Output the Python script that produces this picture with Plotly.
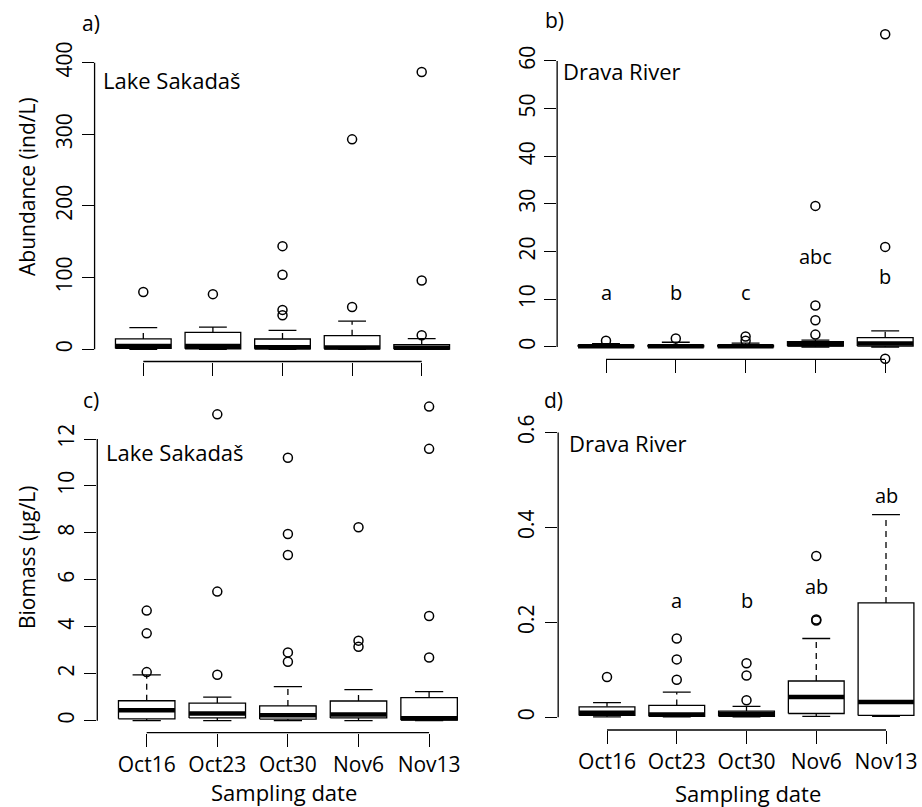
import plotly.graph_objects as go

W, H = 922, 807
FONT = "Open Sans"

dates = ["Oct16", "Oct23", "Oct30", "Nov6", "Nov13"]

# ---- Panel a: Lake Sakadaš, abundance (ind/L)
a_low = [0, 0, 0, 0, 0]
a_q1 = [1.2, 0.8, 0.6, 0.6, 0.4]
a_med = [4.6, 4.5, 3.0, 2.5, 2.3]
a_q3 = [14.5, 23.5, 14.4, 19.0, 6.5]
a_high = [30.2, 31.0, 26.3, 39.3, 14.8]
a_out = [[80], [77], [144, 104, 55, 47.5], [293, 59], [387, 96, 19.5]]

# ---- Panel b: Drava River, abundance (ind/L)
b_low = [0, 0, 0, 0, 0]
b_q1 = [0.05, 0.05, 0.05, 0.2, 0.2]
b_med = [0.15, 0.15, 0.15, 0.6, 0.75]
b_q3 = [0.35, 0.35, 0.35, 1.1, 1.95]
b_high = [0.7, 1.0, 0.8, 1.45, 3.4]
b_out = [[1.3], [1.8], [2.2, 1.3], [29.6, 8.7, 5.6, 2.6], [65.6, 21.0, -2.45]]
b_letters = ["a", "b", "c", "abc", "b"]

# ---- Panel c: Lake Sakadaš, biomass (µg/L)
c_low = [0, 0, 0, 0, 0]
c_q1 = [0.08, 0.12, 0.07, 0.12, 0.03]
c_med = [0.44, 0.31, 0.23, 0.26, 0.10]
c_q3 = [0.85, 0.75, 0.63, 0.84, 0.98]
c_high = [1.95, 1.0, 1.45, 1.32, 1.24]
c_out = [[4.69, 3.72, 2.07], [13.05, 5.5, 1.96], [11.2, 7.95, 7.06, 2.91, 2.51],
         [8.24, 3.41, 3.15], [13.38, 11.58, 4.46, 2.69]]

# ---- Panel d: Drava River, biomass (µg/L)
d_low = [0.001, 0.001, 0.001, 0.002, 0.002]
d_q1 = [0.004, 0.002, 0.002, 0.008, 0.004]
d_med = [0.0095, 0.006, 0.007, 0.043, 0.032]
d_q3 = [0.022, 0.025, 0.013, 0.0765, 0.241]
d_high = [0.031, 0.053, 0.023, 0.166, 0.427]
d_out = [[0.085], [0.166, 0.122, 0.079], [0.114, 0.088, 0.036], [0.34, 0.206, 0.204], []]
d_letters = ["", "a", "b", "ab", "ab"]

# ---- pixel geometry of the four panels
panels = [
    dict(stats=(a_low, a_q1, a_med, a_q3, a_high, a_out), xpos1=143.3, xstep=69.6,
         zero_px=349.3, top_px=62.7, axis_px=361.5,
         yt=[0, 100, 200, 300, 400], ytt=["0", "100", "200", "300", "400"],
         xlab=False, stand=1, letters=None, letter_y=None),
    dict(stats=(b_low, b_q1, b_med, b_q3, b_high, b_out), xpos1=606.0, xstep=69.8,
         zero_px=347.0, top_px=61.0, axis_px=359.3,
         yt=[0, 10, 20, 30, 40, 50, 60], ytt=["0", "10", "20", "30", "40", "50", "60"],
         xlab=False, stand=1, letters=b_letters, letter_y=[11.5, 11.5, 11.5, 18.9, 14.7]),
    dict(stats=(c_low, c_q1, c_med, c_q3, c_high, c_out), xpos1=146.7, xstep=70.6,
         zero_px=720.7, top_px=439.0, axis_px=732.7,
         yt=[0, 2, 4, 6, 8, 10, 12], ytt=["0", "2", "4", "6", "8", "10", "12"],
         xlab=True, stand=2, letters=None, letter_y=None),
    dict(stats=(d_low, d_q1, d_med, d_q3, d_high, d_out), xpos1=607.0, xstep=69.75,
         zero_px=717.3, top_px=432.5, axis_px=730.0,
         yt=[0, 0.2, 0.4, 0.6], ytt=["0", "0.2", "0.4", "0.6"],
         xlab=True, stand=3, letters=d_letters, letter_y=[0, 0.246, 0.246, 0.276, 0.467]),
]

XR = (0.3, 5.5)

fig = go.Figure()
layout = dict(width=W, height=H, margin=dict(l=0, r=0, t=0, b=0, pad=0), showlegend=False,
              plot_bgcolor="white", paper_bgcolor="white",
              font=dict(family=FONT, color="black"))
shapes = []
annotations = []
LW = 1.3
HALF = 0.4     # half box width (R boxwex 0.8)
STAP = 0.2     # half staple width

for k, p in enumerate(panels):
    n = k + 1
    xa = "x" if n == 1 else f"x{n}"
    ya = "y" if n == 1 else f"y{n}"
    low, q1, med, q3, high, out = p["stats"]

    # axis geometry
    x0_px = p["xpos1"] - (1 - XR[0]) * p["xstep"]
    x1_px = p["xpos1"] + (XR[1] - 1) * p["xstep"]
    scale = (p["zero_px"] - p["top_px"]) / p["yt"][-1]
    ymin = -(p["axis_px"] - p["zero_px"]) / scale
    allmax = max([p["yt"][-1]] + [v for o in out for v in o])
    ymax = allmax * 1.04
    ytop_px = p["zero_px"] - ymax * scale

    bx, by, mx, my, wx, wy, sx, sy, ox, oy = [], [], [], [], [], [], [], [], [], []
    for i in range(len(dates)):
        c = i + 1
        bx += [c - HALF, c + HALF, c + HALF, c - HALF, c - HALF, None]
        by += [q1[i], q1[i], q3[i], q3[i], q1[i], None]
        mx += [c - HALF, c + HALF, None]
        my += [med[i], med[i], None]
        wx += [c, c, None, c, c, None]
        wy += [q3[i], high[i], None, q1[i], low[i], None]
        sx += [c - STAP, c + STAP, None, c - STAP, c + STAP, None]
        sy += [high[i], high[i], None, low[i], low[i], None]
        for v in out[i]:
            ox.append(c)
            oy.append(v)
    common = dict(xaxis=xa, yaxis=ya, hoverinfo="skip")
    fig.add_trace(go.Scatter(x=wx, y=wy, mode="lines",
                             line=dict(color="black", width=LW, dash="6px,5px"), **common))
    fig.add_trace(go.Scatter(x=sx, y=sy, mode="lines", line=dict(color="black", width=LW), **common))
    fig.add_trace(go.Scatter(x=bx, y=by, mode="lines", fill="toself", fillcolor="white",
                             line=dict(color="black", width=LW), **common))
    fig.add_trace(go.Scatter(x=mx, y=my, mode="lines", line=dict(color="black", width=4.5), **common))
    fig.add_trace(go.Scatter(x=ox, y=oy, mode="markers", cliponaxis=False,
                             marker=dict(symbol="circle-open", size=9, color="black",
                                         line=dict(width=1.5, color="black")), **common))

    xkey = "xaxis" if n == 1 else f"xaxis{n}"
    ykey = "yaxis" if n == 1 else f"yaxis{n}"
    layout[xkey] = dict(domain=[x0_px / W, x1_px / W], range=list(XR), anchor=ya,
                        tickmode="array", tickvals=[1, 2, 3, 4, 5], ticktext=dates,
                        showticklabels=p["xlab"], ticks="outside", ticklen=13, tickwidth=LW,
                        tickcolor="black", showgrid=False, zeroline=False, showline=False,
                        automargin=False,
                        tickfont=dict(family=FONT, size=21, color="black"), fixedrange=True)
    layout[ykey] = dict(domain=[1 - p["axis_px"] / H, 1 - ytop_px / H], range=[ymin, ymax],
                        anchor=xa, tickmode="array", tickvals=p["yt"], ticktext=p["ytt"],
                        ticks="outside", ticklen=12, tickwidth=LW, tickcolor="black",
                        tickangle=-90, showgrid=False, zeroline=False, showline=False,
                        automargin=False, ticklabelstandoff=p["stand"],
                        tickfont=dict(family=FONT, size=21, color="black"), fixedrange=True)
    # R-style axis lines spanning first to last tick
    shapes.append(dict(type="line", xref=f"{xa} domain", yref=ya, x0=0, x1=0,
                       y0=p["yt"][0], y1=p["yt"][-1], line=dict(color="black", width=LW)))
    shapes.append(dict(type="line", xref=xa, yref=f"{ya} domain", x0=1, x1=len(dates),
                       y0=0, y1=0, line=dict(color="black", width=LW)))
    if p["letters"]:
        for i, t in enumerate(p["letters"]):
            if t:
                annotations.append(dict(text=t, xref=xa, yref=ya, x=i + 1, y=p["letter_y"][i],
                                        showarrow=False, xanchor="center", yanchor="middle",
                                        font=dict(family=FONT, size=20, color="black")))

def ann(text, x, y, size, xanchor="center", angle=0):
    annotations.append(dict(text=text, xref="paper", yref="paper", x=x / W, y=1 - y / H,
                            showarrow=False, xanchor=xanchor, yanchor="middle", textangle=angle,
                            font=dict(family=FONT, size=size, color="black")))

ann("a)", 91, 23, 21)
ann("b)", 554, 20, 21)
ann("c)", 91, 400, 21)
ann("d)", 553.5, 400, 21)
ann("Lake Sakadaš", 101, 80, 22, xanchor="left")
ann("Drava River", 561, 71, 22, xanchor="left")
ann("Lake Sakadaš", 104, 452, 22, xanchor="left")
ann("Drava River", 567, 443, 22, xanchor="left")
ann("Abundance (ind/L)", 27, 187, 21, angle=-90)
ann("Biomass (µg/L)", 27, 557, 21, angle=-90)
ann("Sampling date", 284, 792, 22)
ann("Sampling date", 748, 793, 22)

layout["shapes"] = shapes
layout["annotations"] = annotations
fig.update_layout(**layout)
fig.write_html("out.html")
